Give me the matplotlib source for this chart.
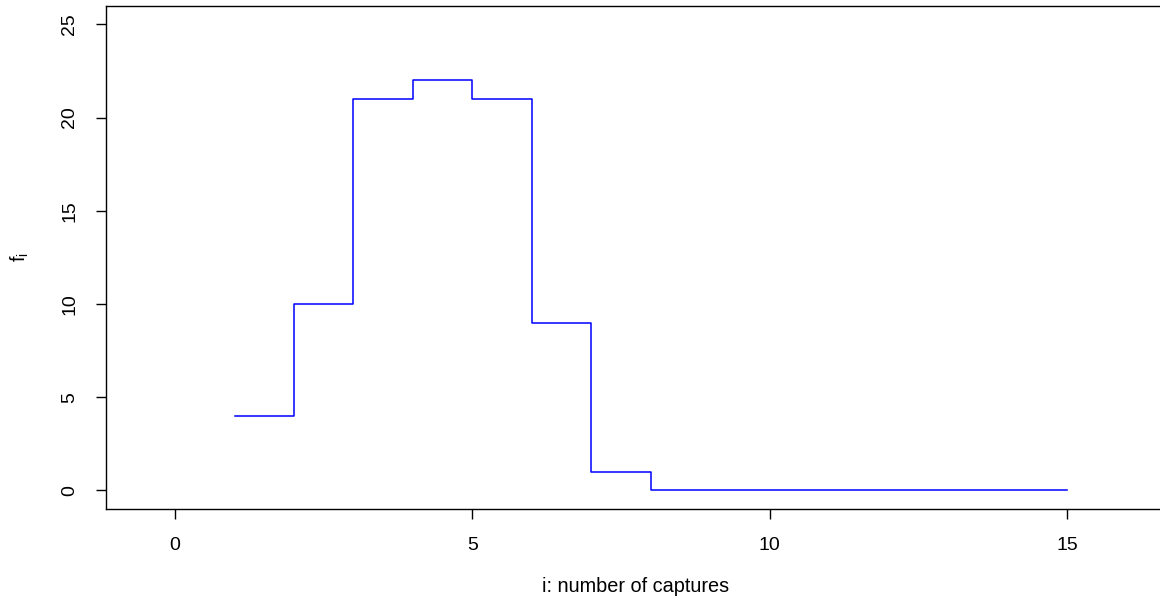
import numpy as np
import matplotlib.pyplot as plt

plt.rcParams['font.family'] = ['Liberation Sans', 'DejaVu Sans']

# capture frequencies f_i for i = 1..15
captures = list(range(1, 16))
freq = [4, 10, 21, 22, 21, 9, 1, 0, 0, 0, 0, 0, 0, 0, 0]
xticks = [0, 5, 10, 15]
yticks = [0, 5, 10, 15, 20, 25]

fig = plt.figure(figsize=(11.6, 6.04), dpi=100)
ax = fig.add_axes([0.0914, 0.1573, 0.9138, 0.8333])

ax.plot(captures, freq, drawstyle='steps-post', color='blue', lw=1.1)

ax.set_xlim(-1.16, 16.66)
ax.set_ylim(-1, 26)
ax.set_xticks(xticks)
ax.set_yticks(yticks)
ax.tick_params(direction='out', length=7, width=1, labelsize=14, pad=13)
for lab in ax.get_yticklabels():
    lab.set_rotation(90)
    lab.set_va('center')
for s in ax.spines.values():
    s.set_linewidth(1)

ax.set_xlabel('i: number of captures', fontsize=14.3, labelpad=17)
ax.set_ylabel('$\\mathregular{f_i}$', fontsize=14.3, labelpad=22)

fig.savefig('out.png', dpi=100)
